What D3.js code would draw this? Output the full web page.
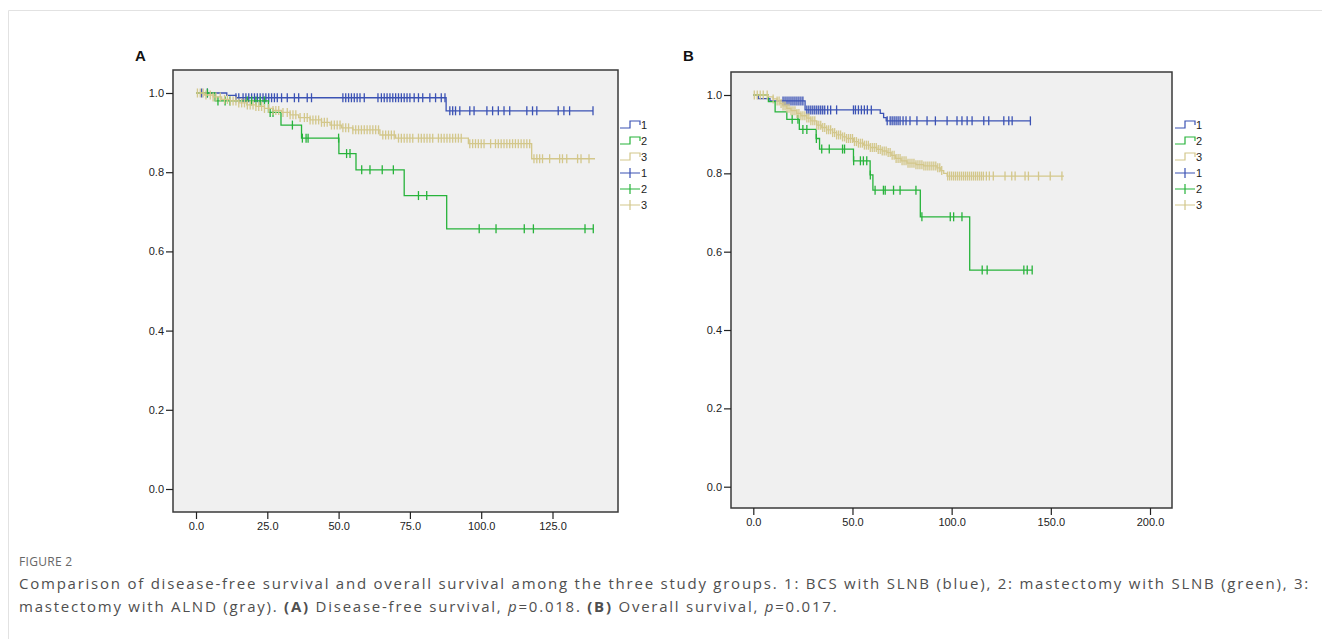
<!DOCTYPE html>
<html>
<head>
<meta charset="utf-8">
<script src="https://cdn.jsdelivr.net/npm/d3@7"></script>
<style>
  body { margin: 0; background: #fff; }
  .tick text { font-family: "Liberation Sans", Arial, sans-serif; font-size: 11px; fill: #222; }
  .tick line { stroke: #222; stroke-width: 1.2; }
</style>
</head>
<body>
<svg id="fig"></svg>
<script>
// ---- data ----
const groupLabels = ['1', '2', '3'];
const yTicks = [0, 0.2, 0.4, 0.6, 0.8, 1.0];
const xTicksA = [0, 25, 50, 75, 100, 125];
const xTicksB = [0, 50, 100, 150, 200];

// Panel A: disease-free survival. steps = [time, survival after event]
const stepsA1 = [[0, 1], [10.8, 0.994], [14, 0.988], [87.7, 0.955]];
const endA1 = 139.2;
const censorA1 = [2, 4, 14, 15, 16.5, 17.5, 18.5, 19.5, 20.5, 21.5, 22.5, 23.5, 24.5, 25.5, 26.5, 27.5, 28.5, 30, 32, 34.5, 36, 39, 40.5,
  51.5, 52.5, 53.5, 54.5, 55.5, 56.5, 57.5, 59, 63.8, 65, 66, 67, 68, 69, 70, 71, 72, 73, 74, 75, 76.5, 78, 79.5, 82, 84, 86, 87.3,
  89, 90, 91, 92.5, 96, 97.5, 102, 104, 106, 108, 110, 116, 118, 119.5, 127, 129, 131, 139.2];

const stepsA2 = [[0, 1], [6.7, 0.98], [25.4, 0.951], [29.8, 0.919], [37, 0.886], [50.1, 0.847], [56.1, 0.806], [73, 0.741], [87.9, 0.657]];
const endA2 = 139.3;
const censorA2 = [4, 7.7, 10.2, 11.9, 18, 19.5, 21, 22.5, 24, 26, 27, 33.8, 37.3, 38.6, 39.3, 50, 52.8, 54, 58.1, 61, 65.3, 69.2,
  78, 80.9, 99.3, 105.2, 115.1, 118.3, 136.4, 139.3];

const stepsA3 = [[0, 1], [3, 0.995], [6, 0.99], [9, 0.984], [12, 0.98], [15, 0.975], [18, 0.97], [21, 0.966], [24, 0.961], [27, 0.956],
  [30, 0.951], [33, 0.945], [36, 0.938], [40, 0.932], [44, 0.926], [47, 0.919], [51, 0.912], [55, 0.907], [64.5, 0.894], [70, 0.886],
  [95.5, 0.872], [117.7, 0.834]];
const endA3 = 139.9;
const censorA3 = [0.5, 1.5, 2.5, 3.5, 5, 6, 7, 8.5, 10, 11, 12, 13, 14, 15, 16, 17, 18, 19, 20, 21, 22, 23, 24, 25.5, 27, 28, 29, 30.5,
  32, 33, 34, 35, 36.5, 38, 39, 40, 41, 42, 43, 44, 45, 46, 47.5, 48.5, 49.5, 50.5, 51.5, 52.5, 53.5, 55, 56, 57, 58, 59, 60, 61, 62,
  63, 64, 65.5, 66.5, 67.5, 68.5, 69.5, 71, 72, 73, 74, 75, 76, 78, 79, 80, 81, 82, 83, 85, 86, 87, 88, 89, 90, 91, 92, 93, 96, 97,
  98, 99, 100, 101, 103.3, 105, 106, 107, 108, 109, 110, 111, 112, 113, 114, 115, 116, 117, 118.5, 119.5, 120.5, 121.5, 124, 127.5,
  128.5, 130, 133.8, 135, 137.8];

// Panel B: overall survival
const stepsB1 = [[0, 1], [2.5, 0.991], [8.4, 0.985], [26.1, 0.962], [64, 0.953], [65.7, 0.942], [67, 0.934]];
const endB1 = 139.7;
const censorB1 = [15, 16, 17, 18, 19, 20, 21, 22, 23, 24, 25, 27, 28, 29, 30, 31, 32, 33, 34, 35, 36, 37.5, 39, 42, 50.5, 51.5, 53,
  54.5, 56, 57.5, 59.5, 67.5, 69, 70, 71, 72, 73, 74, 75.5, 77, 79, 82.5, 87.6, 91.8, 97.7, 102.7, 105.2, 107.8, 110.3, 116.2, 118.7,
  126.3, 128.8, 130.5, 139.7];

const stepsB2 = [[0, 1], [7.6, 0.983], [11, 0.957], [16.9, 0.938], [23.2, 0.912], [31.7, 0.889], [33.4, 0.862], [50.5, 0.832],
  [58.9, 0.796], [60.3, 0.757], [84.2, 0.689], [109.1, 0.553]];
const endB2 = 140.6;
const censorB2 = [19.6, 22.5, 25, 27, 31.8, 34.5, 38.3, 45, 46, 50.6, 54, 55.5, 57.2, 59, 61.4, 65.6, 66.5, 70.7, 74, 82, 85, 99.3,
  101, 105.2, 115.4, 117.9, 136.4, 138.1, 140.6];

const stepsB3 = [[0, 1], [7.6, 0.995], [10, 0.99], [12, 0.985], [13.5, 0.978], [15, 0.972], [16.9, 0.966], [19, 0.96], [21.9, 0.953],
  [24, 0.947], [27, 0.941], [29, 0.934], [32, 0.923], [34.5, 0.917], [37, 0.911], [40, 0.904], [42, 0.898], [45, 0.893], [47, 0.889],
  [50.5, 0.881], [53, 0.877], [55.6, 0.872], [59, 0.866], [62.3, 0.861], [65, 0.857], [67.4, 0.853], [69.5, 0.846], [71.6, 0.838],
  [74.5, 0.832], [77.5, 0.826], [82, 0.822], [85.9, 0.819], [92.6, 0.814], [94.5, 0.807], [96, 0.8], [97.7, 0.793]];
const endB3 = 156.6;
const censorB3 = [0.5, 2, 3.5, 5, 7, 10, 12, 13, 14, 15, 16, 17, 18, 19, 20, 21, 22, 23, 24, 25, 26, 27, 28, 29, 30, 31, 32, 33, 34,
  35, 36, 37, 38, 39, 40, 41, 42, 43, 44, 45, 46, 47, 48, 49, 50, 51, 52, 53, 54, 55, 56, 57, 58, 59, 60, 61, 62, 63, 64, 65, 66, 67,
  68, 69, 70, 71, 72, 73, 74, 75, 76, 77, 78, 79, 80, 81, 82, 83, 84, 85, 86, 87, 88, 89, 90, 91, 92, 93, 94, 95, 98, 99, 100, 101,
  102, 103, 104, 105, 106, 107, 108, 109, 110, 111, 112, 113, 114, 115, 116, 117.5, 119, 121, 126.9, 130.3, 132, 137, 138.7, 143.8,
  149.7, 155.6];

// ---- drawing ----
const colors = ['#3b52b4', '#27b33b', '#d3c78b'];

const svg = d3.select('#fig').attr('width', 1322).attr('height', 639);

// faint page frame
svg.append('path')
  .attr('d', 'M8.5,640 V10.5 H1330')
  .attr('fill', 'none')
  .attr('stroke', '#e2e2e2');

function survivalAt(steps, t) {
  let s = steps[0][1];
  for (const st of steps) { if (st[0] <= t) s = st[1]; }
  return s;
}

function drawPanel(cfg) {
  const g = svg.append('g');
  const f = cfg.frame;

  const x = d3.scaleLinear().domain([cfg.xTicks[0], cfg.xTicks[cfg.xTicks.length - 1]]).range(cfg.xRange);
  const y = d3.scaleLinear().domain([0, 1]).range(cfg.yRange);

  g.append('rect')
    .attr('x', f.x).attr('y', f.y)
    .attr('width', f.w).attr('height', f.h)
    .attr('fill', '#f0f0f0')
    .attr('stroke', '#3a3a3a')
    .attr('stroke-width', 1.5);

  g.append('g')
    .attr('transform', `translate(${f.x},0)`)
    .call(d3.axisLeft(y).tickValues(yTicks).tickFormat(d3.format('.1f')).tickSize(7).tickPadding(2))
    .call(a => a.select('.domain').remove());

  g.append('g')
    .attr('transform', `translate(0,${f.y + f.h})`)
    .call(d3.axisBottom(x).tickValues(cfg.xTicks).tickFormat(d3.format('.1f')).tickSize(7).tickPadding(3))
    .call(a => a.select('.domain').remove());

  const line = d3.line()
    .x(d => x(d[0]))
    .y(d => y(d[1]))
    .curve(d3.curveStepAfter);

  cfg.groups.forEach((grp, i) => {
    const pts = grp.steps.concat([[grp.end, grp.steps[grp.steps.length - 1][1]]]);
    g.append('path')
      .attr('d', line(pts))
      .attr('fill', 'none')
      .attr('stroke', colors[i])
      .attr('stroke-width', 1.3);

    g.append('g').selectAll('line')
      .data(grp.censor)
      .enter().append('line')
      .attr('x1', d => x(d)).attr('x2', d => x(d))
      .attr('y1', d => y(survivalAt(grp.steps, d)) - 4.5)
      .attr('y2', d => y(survivalAt(grp.steps, d)) + 4.5)
      .attr('stroke', colors[i])
      .attr('stroke-width', 1.3);
  });

  // panel letter
  g.append('text')
    .attr('x', cfg.letterX).attr('y', 61)
    .attr('font-family', '"Liberation Sans", Arial, sans-serif')
    .attr('font-size', 15).attr('font-weight', 'bold')
    .attr('fill', '#111')
    .text(cfg.letter);

  // legend
  const lx = cfg.legendX;
  const rows = groupLabels.concat(groupLabels);
  const leg = g.append('g').selectAll('g')
    .data(rows)
    .enter().append('g')
    .attr('transform', (d, i) => `translate(${lx},${125 + i * 16})`);

  leg.append('path')
    .attr('d', (d, i) => i < 3 ? 'M0,3 H10 V-4 H20 V0' : 'M0,0 H20 M10,-5 V5')
    .attr('fill', 'none')
    .attr('stroke', (d, i) => colors[i % 3])
    .attr('stroke-width', 1.2);

  leg.append('text')
    .attr('x', 21).attr('y', 4)
    .attr('font-family', '"Liberation Sans", Arial, sans-serif')
    .attr('font-size', 11)
    .attr('fill', '#222')
    .text(d => d);
}

drawPanel({
  letter: 'A', letterX: 135,
  frame: { x: 173, y: 70, w: 445, h: 442 },
  xTicks: xTicksA, xRange: [196, 552.5], yRange: [489, 93],
  legendX: 620,
  groups: [
    { steps: stepsA1, end: endA1, censor: censorA1 },
    { steps: stepsA2, end: endA2, censor: censorA2 },
    { steps: stepsA3, end: endA3, censor: censorA3 }
  ]
});

drawPanel({
  letter: 'B', letterX: 683,
  frame: { x: 731, y: 72, w: 441, h: 436 },
  xTicks: xTicksB, xRange: [753.3, 1150], yRange: [486.7, 95],
  legendX: 1175,
  groups: [
    { steps: stepsB1, end: endB1, censor: censorB1 },
    { steps: stepsB2, end: endB2, censor: censorB2 },
    { steps: stepsB3, end: endB3, censor: censorB3 }
  ]
});

// caption
const capFont = '"Open Sans", "Noto Sans", sans-serif';
svg.append('text')
  .attr('x', 19).attr('y', 566)
  .attr('font-family', capFont).attr('font-size', 12)
  .attr('fill', '#666')
  .attr('letter-spacing', 0.3)
  .text('FIGURE 2');

const line1 = svg.append('text')
  .attr('x', 19).attr('y', 589)
  .attr('font-family', capFont).attr('font-size', 15)
  .attr('fill', '#4f4f4f')
  .text('Comparison of disease-free survival and overall survival among the three study groups. 1: BCS with SLNB (blue), 2: mastectomy with SLNB (green), 3:');

const line2 = svg.append('text')
  .attr('x', 19).attr('y', 612)
  .attr('font-family', capFont).attr('font-size', 15)
  .attr('fill', '#4f4f4f');
line2.append('tspan').text('mastectomy with ALND (gray). ');
line2.append('tspan').attr('font-weight', 'bold').text('(A)');
line2.append('tspan').text(' Disease-free survival, ');
line2.append('tspan').attr('font-style', 'italic').text('p');
line2.append('tspan').text('=0.018. ');
line2.append('tspan').attr('font-weight', 'bold').text('(B)');
line2.append('tspan').text(' Overall survival, ');
line2.append('tspan').attr('font-style', 'italic').text('p');
line2.append('tspan').text('=0.017.');

// spread the first line to the width it has in the figure
const t1 = line1.text();
const w1 = line1.node().getComputedTextLength();
const ls = Math.max(0, (1291 - w1) / t1.length);
line1.attr('letter-spacing', ls);
line2.attr('letter-spacing', ls);
</script>
</body>
</html>
